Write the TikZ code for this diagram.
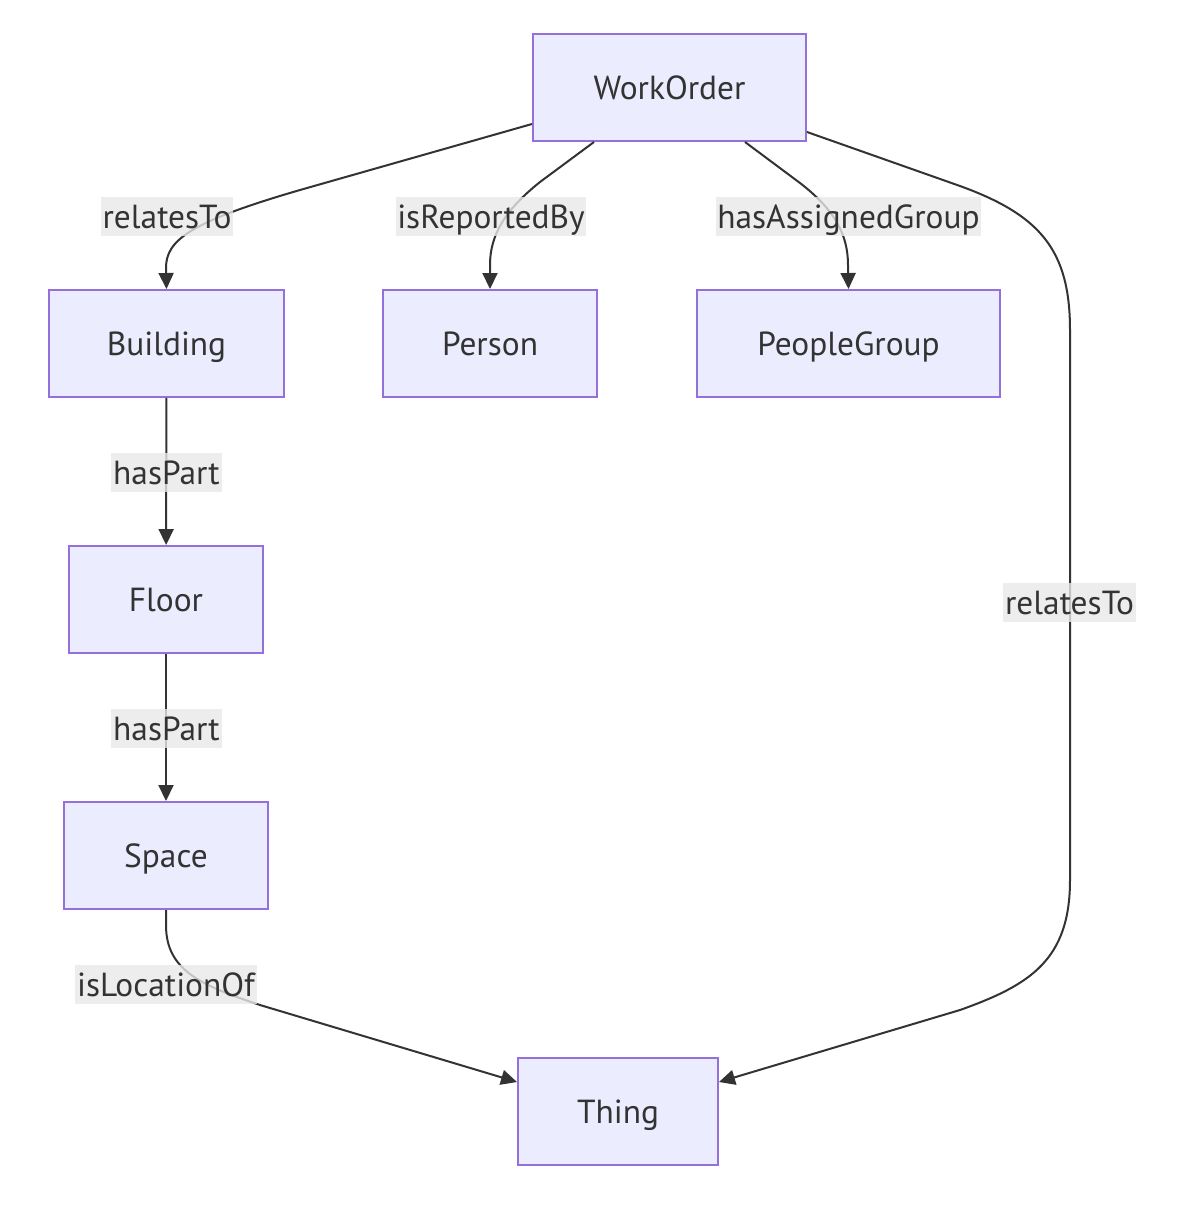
\documentclass[tikz,border=0pt]{standalone}
\usepackage{fontspec}
\setmainfont{PT Sans}
\usetikzlibrary{arrows.meta, positioning, calc}
\definecolor{nodefill}{HTML}{ECECFF}
\definecolor{nodeline}{HTML}{9370DB}
\definecolor{ink}{HTML}{333333}
\definecolor{tagfill}{HTML}{E8E8E8}
\tikzset{
    box/.style={draw=nodeline, line width=0.04cm, fill=nodefill, text=ink, minimum height=2.14cm, text height=13.3pt, text depth=0pt, font=\fontsize{19}{23}\selectfont},
    arrow/.style={-{Triangle[length=0.32cm, width=0.3cm]}, line width=0.04cm, ink},
    elabel/.style={fill=tagfill, fill opacity=0.8, text opacity=1, text=ink, inner xsep=1pt, inner ysep=0pt, minimum height=0.78cm, text height=13.3pt, text depth=0pt, font=\fontsize{19}{23}\selectfont}
}

\begin{document}
\begin{tikzpicture}[x=0.02cm, y=-0.02cm]
        \useasboundingbox (0,0) rectangle (1184,1208);
        % nodes
        \node [box, minimum width=5.46cm] (wo) at (669.5,87.5) {WorkOrder};
        \node [box, minimum width=4.7cm] (bld) at (166.5,343.5) {Building};
        \node [box, minimum width=4.28cm] (per) at (490,343.5) {Person};
        \node [box, minimum width=6.06cm] (pg) at (848.5,343.5) {PeopleGroup};
        \node [box, minimum width=3.88cm] (flr) at (166,599.5) {Floor};
        \node [box, minimum width=4.08cm] (spc) at (166,855.5) {Space};
        \node [box, minimum width=4cm] (thi) at (618,1111.5) {Thing};
        % edges
        \draw [arrow] ($(wo.south west)+(0,-18)$) -- (300,190) .. controls (190,222) and (166,240) .. (166,268) -- (bld.north);
        \draw [arrow] ($(wo.south)+(-75.5,0)$) -- (540,182) .. controls (505,210) and (490,235) .. (490,265) -- (per.north);
        \draw [arrow] ($(wo.south)+(75.5,0)$) -- (800,183) .. controls (835,210) and (848,235) .. (848,265) -- (pg.north);
        \draw [arrow] ($(wo.south east)+(0,-10)$) -- (960,186) .. controls (1040,215) and (1070,250) .. (1070,330)
            -- (1070,880) .. controls (1070,960) and (1030,985) .. (960,1010) -- ($(thi.east)+(0,-29.5)$);
        \draw [arrow] (bld) -- (flr);
        \draw [arrow] (flr) -- (spc);
        \draw [arrow] (spc.south) -- (166,925) .. controls (166,970) and (200,985) .. (260,1005) -- ($(thi.west)+(0,-29.5)$);
        % edge labels
        \node [elabel] (l1) at (167,216.5) {relatesTo};
        \node [elabel] (l2) at (491,216.5) {isReportedBy};
        \node [elabel] (l3) at (848.5,216.5) {hasAssignedGroup};
        \node [elabel] (l4) at (166.5,472.5) {hasPart};
        \node [elabel] (l5) at (166.5,728.5) {hasPart};
        \node [elabel] (l6) at (1069.5,602.5) {relatesTo};
        \node [elabel] (l7) at (166,984.5) {isLocationOf};
    \end{tikzpicture}
\end{document}
